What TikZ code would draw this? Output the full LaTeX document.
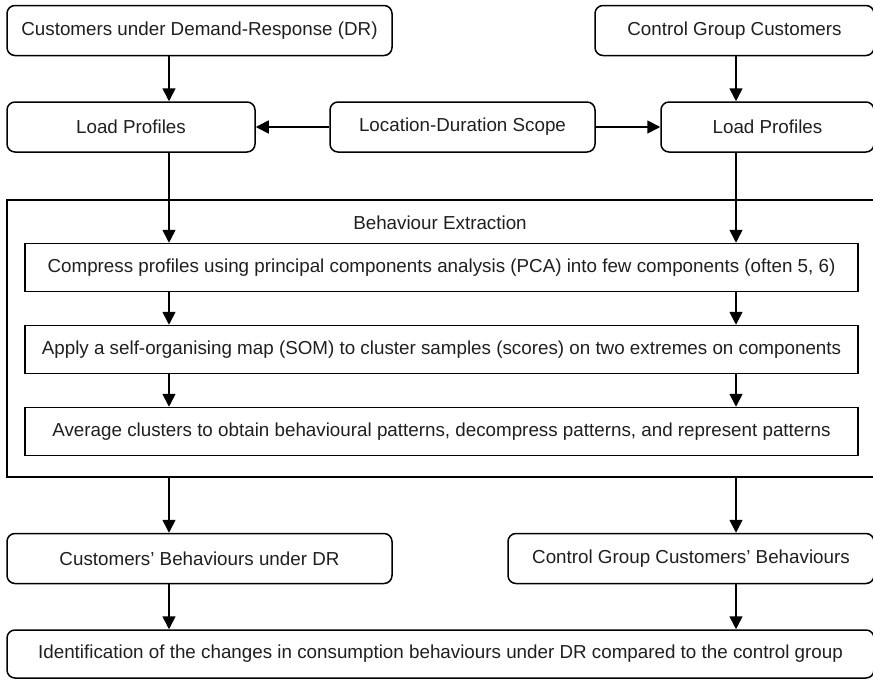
\documentclass[tikz,border=0pt]{standalone}
\usepackage{fontspec}
\setmainfont{Liberation Sans}
\usetikzlibrary{arrows.meta}
\begin{document}
\begin{tikzpicture}[x=1pt,y=-1pt,
  font=\fontsize{18.8}{22}\selectfont,
  text=black!88,
  rbox/.style={draw,line width=1.5pt,rounded corners=8pt,inner sep=0pt,minimum height=50pt},
  sbox/.style={draw,line width=1.5pt,inner sep=0pt,minimum height=48pt,minimum width=833pt},
  arr/.style={line width=1.6pt,-{Triangle[length=13pt,width=13pt]}}]
\useasboundingbox (0,0) rectangle (873,680);
% arrow columns
\coordinate (colL) at (169,0);
\coordinate (colR) at (736,0);
% top row
\node[rbox,minimum width=385pt] (dr) at (199.5,30.5) {Customers under Demand-Response (DR)};
\node[rbox,minimum width=279pt] (cg) at (734.5,30.5) {Control Group Customers};
% load profiles and scope
\node[rbox,minimum width=248pt] (lpl) at (131,127) {Load Profiles};
\node[rbox,minimum width=265pt] (scope) at (462.5,127) {Location-Duration Scope};
\node[rbox,minimum width=213pt] (lpr) at (767.5,127) {Load Profiles};
% behaviour extraction frame
\node[draw,line width=1.5pt,inner sep=0pt,minimum width=870pt,minimum height=277pt] (frame) at (442,338.5) {};
\node (title) at (440,223) {Behaviour Extraction};
\node[sbox] (pca) at (441.5,267.5) {Compress profiles using principal components analysis (PCA) into few components (often 5, 6)};
\node[sbox] (som) at (441.5,349.5) {Apply a self-organising map (SOM) to cluster samples (scores) on two extremes on components};
\node[sbox] (avg) at (441.5,431.5) {Average clusters to obtain behavioural patterns, decompress patterns, and represent patterns};
% behaviours
\node[rbox,minimum width=385pt] (cbl) at (199.5,558.5) {Customers’ Behaviours under DR};
\node[rbox,minimum width=366pt] (cbr) at (691,558.5) {Control Group Customers’ Behaviours};
% final result
\node[rbox,minimum width=867pt,minimum height=48pt] (final) at (440.5,654) {Identification of the changes in consumption behaviours under DR compared to the control group};
% connectors
\draw[arr] (dr.south -| colL) -- (lpl.north -| colL);
\draw[arr] (cg.south -| colR) -- (lpr.north -| colR);
\draw[arr] (scope.west) -- (lpl.east);
\draw[arr] (scope.east) -- (lpr.west);
\draw[arr] (lpl.south -| colL) -- (pca.north -| colL);
\draw[arr] (lpr.south -| colR) -- (pca.north -| colR);
\draw[arr] (pca.south -| colL) -- (som.north -| colL);
\draw[arr] (pca.south -| colR) -- (som.north -| colR);
\draw[arr] (som.south -| colL) -- (avg.north -| colL);
\draw[arr] (som.south -| colR) -- (avg.north -| colR);
\draw[arr] (frame.south -| colL) -- (cbl.north -| colL);
\draw[arr] (frame.south -| colR) -- (cbr.north -| colR);
\draw[arr] (cbl.south -| colL) -- (final.north -| colL);
\draw[arr] (cbr.south -| colR) -- (final.north -| colR);
\end{tikzpicture}
\end{document}
